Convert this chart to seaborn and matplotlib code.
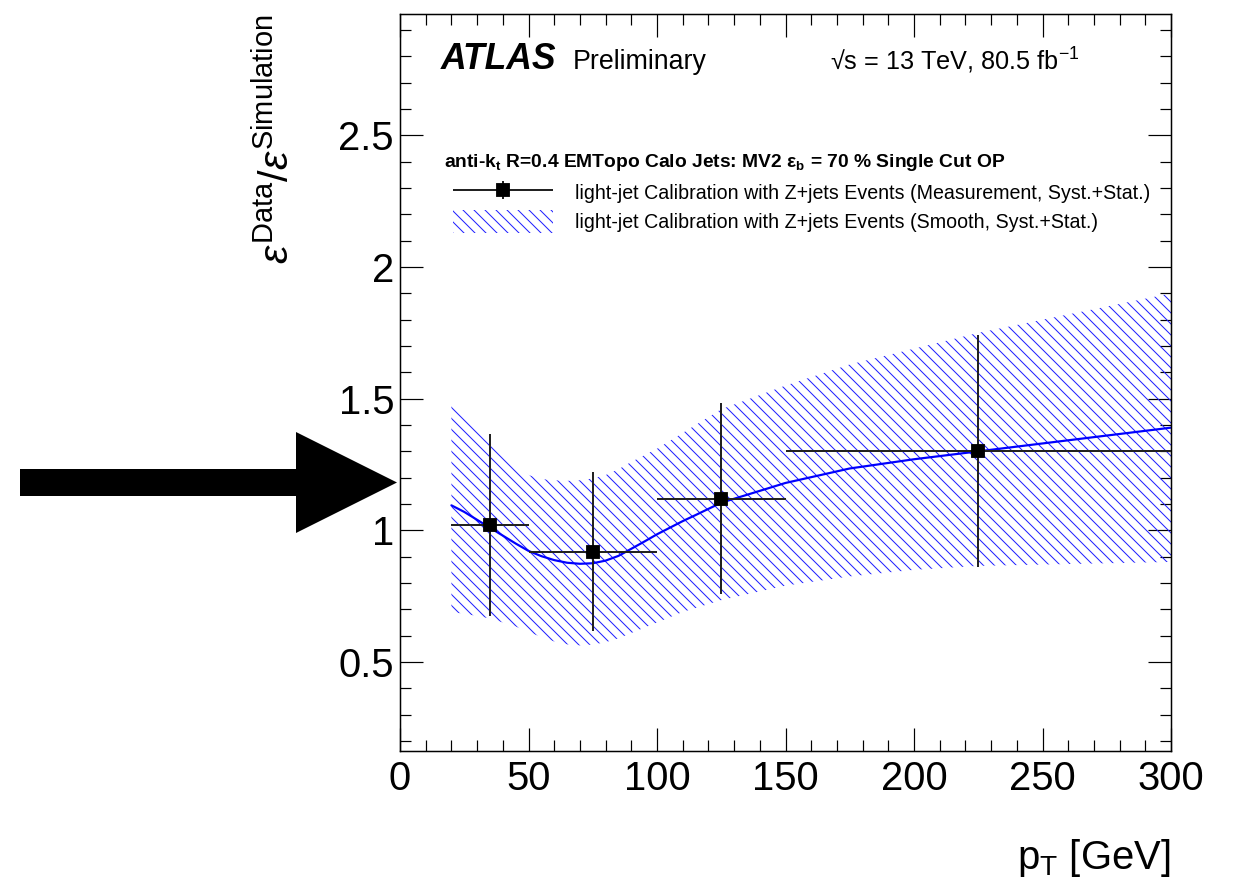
import numpy as np
import pandas as pd
import matplotlib
matplotlib.use("Agg")
import matplotlib.pyplot as plt
import seaborn as sns
from matplotlib.patches import Polygon
from matplotlib.ticker import MultipleLocator
from matplotlib.legend_handler import HandlerErrorbar

# ---------------- data ----------------
bin_lo = [20, 50, 100, 150]
bin_hi = [50, 100, 150, 300]
meas_x = [35, 75, 125, 225]
meas_y = [1.02, 0.918, 1.118, 1.30]
meas_up = [1.365, 1.222, 1.482, 1.74]
meas_dn = [0.673, 0.618, 0.757, 0.86]

smooth_pt = [20, 25, 30, 35, 40, 45, 50, 55, 60, 65, 70, 75, 80, 85, 90, 95, 100, 105,
             110, 115, 125, 150, 175, 200, 225, 250, 275, 300]
smooth_c = [1.095, 1.07, 1.04, 1.01, 0.98, 0.95, 0.922, 0.902, 0.887, 0.877, 0.873, 0.875,
            0.885, 0.903, 0.93, 0.957, 0.985, 1.01, 1.035, 1.058, 1.105,
            1.18, 1.235, 1.27, 1.30, 1.33, 1.36, 1.39]
smooth_hi = [1.49, 1.445, 1.40, 1.35, 1.30, 1.255, 1.21, 1.195, 1.19, 1.188, 1.19, 1.197,
             1.21, 1.232, 1.26, 1.285, 1.31, 1.34, 1.37, 1.40, 1.46,
             1.55, 1.63, 1.69, 1.75, 1.80, 1.85, 1.90]
smooth_lo = [0.69, 0.683, 0.675, 0.665, 0.65, 0.635, 0.614, 0.595, 0.578, 0.567, 0.563, 0.566,
             0.575, 0.59, 0.61, 0.63, 0.65, 0.67, 0.69, 0.705, 0.735,
             0.79, 0.825, 0.85, 0.865, 0.87, 0.875, 0.88]

label_meas = "light-jet Calibration with Z+jets Events (Measurement, Syst.+Stat.)"
label_smooth = "light-jet Calibration with Z+jets Events (Smooth, Syst.+Stat.)"
header = r"anti-k$_\mathbf{t}$ R=0.4 EMTopo Calo Jets: MV2 $\mathbf{\varepsilon_b}$ = 70 % Single Cut OP"

# ---------------- style ----------------
DPI = 132
W, H = 1234, 887
PT = 72.0 / DPI  # points per pixel

sns.set_theme(style="ticks")
plt.rcParams["font.family"] = ["Liberation Sans", "DejaVu Sans"]
plt.rcParams["mathtext.fontset"] = "custom"
plt.rcParams["mathtext.rm"] = "Liberation Sans"
plt.rcParams["mathtext.it"] = "Liberation Sans:italic"
plt.rcParams["mathtext.bf"] = "Liberation Sans:bold"
plt.rcParams["hatch.linewidth"] = 0.55
plt.rcParams["axes.linewidth"] = 1.5 * PT
for k in ["text.color", "axes.labelcolor", "xtick.color", "ytick.color",
          "axes.edgecolor", "xtick.labelcolor", "ytick.labelcolor"]:
    plt.rcParams[k] = "black"

fig = plt.figure(figsize=(W / DPI, H / DPI), dpi=DPI)
L, R, B, T = 400, 1171, 751, 14
ax = fig.add_axes([L / W, 1 - B / H, (R - L) / W, (B - T) / H])

def fx(px):
    return px / W

def fy(py):
    return 1 - py / H

smooth = pd.DataFrame({"pt": smooth_pt, "c": smooth_c, "hi": smooth_hi, "lo": smooth_lo})
meas = pd.DataFrame({"x": meas_x, "y": meas_y, "up": meas_up, "dn": meas_dn,
                     "lo": bin_lo, "hi": bin_hi})

band = ax.fill_between(smooth["pt"], smooth["lo"], smooth["hi"], facecolor="none",
                       edgecolor="#2020ff", linewidth=0, hatch="\\\\\\\\", zorder=1)
sns.lineplot(data=smooth, x="pt", y="c", ax=ax, color="#0000ff", linewidth=2.2 * PT,
             zorder=2, legend=False)

eb = ax.errorbar(meas["x"], meas["y"],
                 xerr=[meas["x"] - meas["lo"], meas["hi"] - meas["x"]],
                 yerr=[meas["y"] - meas["dn"], meas["up"] - meas["y"]],
                 fmt="s", color="black", ecolor="#222222", elinewidth=2.0 * PT,
                 markersize=13 * PT, capsize=0, zorder=3)
sns.scatterplot(data=meas, x="x", y="y", ax=ax, marker="s", color="black",
                s=(13 * PT) ** 2, linewidth=0, zorder=4, legend=False)

ax.set_xlim(0, 300)
ax.set_ylim(0.162, 2.961)
ax.xaxis.set_major_locator(MultipleLocator(50))
ax.xaxis.set_minor_locator(MultipleLocator(10))
ax.yaxis.set_major_locator(MultipleLocator(0.5))
ax.yaxis.set_minor_locator(MultipleLocator(0.1))
ax.tick_params(which="both", direction="in", top=True, right=True, color="black",
               width=1.2 * PT)
ax.tick_params(which="major", length=23 * PT)
ax.tick_params(which="minor", length=11 * PT)
ax.tick_params(axis="x", which="major", labelsize=40 * PT, pad=9 * PT)
ax.tick_params(axis="y", which="major", labelsize=40 * PT, pad=6 * PT)
ax.set_xticks([0, 50, 100, 150, 200, 250, 300])
ax.set_xticklabels(["0", "50", "100", "150", "200", "250", "300"])
ax.set_yticks([0.5, 1.0, 1.5, 2.0, 2.5])
ax.set_yticklabels(["0.5", "1", "1.5", "2", "2.5"])
ax.set_xlabel("")
ax.set_ylabel("")
for s in ax.spines.values():
    s.set_color("black")

# axis titles
fig.text(fx(1170), fy(869), r"p$_\mathregular{T}$ [GeV]", ha="right", va="baseline",
         fontsize=40 * PT)
fig.text(fx(276), fy(14), r"$\varepsilon^{\mathregular{Data}}/\varepsilon^{\mathregular{Simulation}}$",
         rotation=90, ha="center", va="top", fontsize=41.5 * PT)

# labels
fig.text(fx(441), fy(69), "ATLAS", fontsize=35.5 * PT, fontweight="bold", fontstyle="italic",
         ha="left", va="baseline")
fig.text(fx(573), fy(69), "Preliminary", fontsize=26.8 * PT, ha="left", va="baseline")
fig.text(fx(830), fy(70), "\u221as = 13 TeV, 80.5 fb$^{\\mathregular{-1}}$", fontsize=25.3 * PT,
         ha="left", va="baseline")
fig.text(fx(444), fy(167), header, fontsize=19.2 * PT, fontweight="bold",
         ha="left", va="baseline")

fs = 19.6 * PT
leg = ax.legend([eb, band], [label_meas, label_smooth], loc="upper left",
                bbox_to_anchor=((453 - L) / (R - L), 1 - (181 - T) / (B - T)),
                frameon=False, fontsize=fs, handlelength=100 / 19.6, handleheight=28 / 19.6,
                handletextpad=22 / 19.6, labelspacing=0.3, borderpad=0, borderaxespad=0,
                handler_map={type(eb): HandlerErrorbar(xerr_size=50 / 19.6, yerr_size=9 / 19.6,
                                                       numpoints=1)})

# arrow (annotation outside the axes)
arrow_px = [(20, 469), (296, 469), (296, 432), (397, 482.5), (296, 533), (296, 496), (20, 496)]
fig.add_artist(Polygon([(fx(x), fy(y)) for x, y in arrow_px], closed=True,
                       transform=fig.transFigure, facecolor="black", edgecolor="none"))

fig.savefig("out.png", dpi=DPI)
